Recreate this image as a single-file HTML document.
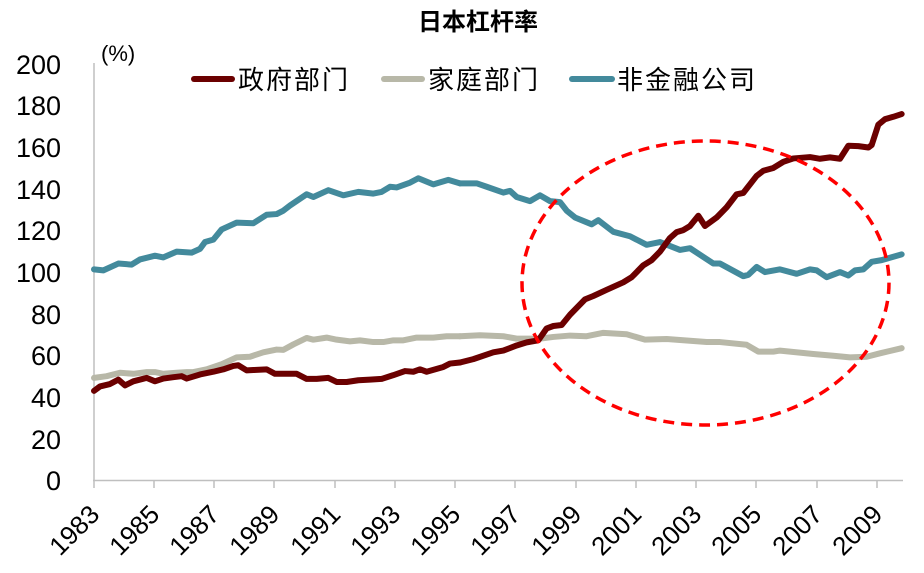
<!DOCTYPE html>
<html><head><meta charset="utf-8"><style>
body{margin:0;background:#fff;}
svg{display:block;font-family:"Liberation Sans","Noto Sans CJK SC",sans-serif;}
</style></head><body>
<svg width="924" height="573" viewBox="0 0 924 573" xmlns="http://www.w3.org/2000/svg">
<text x="478" y="30" text-anchor="middle" font-size="24" font-weight="bold" fill="#000">日本杠杆率</text>
<text x="101" y="61" font-size="22" fill="#000">(%)</text>
<g font-size="27" fill="#000" text-anchor="end">
<text x="61" y="74">200</text><text x="61" y="115">180</text><text x="61" y="157">160</text>
<text x="61" y="199">140</text><text x="61" y="240">120</text><text x="61" y="282">100</text>
<text x="61" y="324">80</text><text x="61" y="365">60</text><text x="61" y="407">40</text>
<text x="61" y="449">20</text><text x="61" y="490">0</text>
</g>
<line x1="94" y1="63" x2="94" y2="481" stroke="#bfbfbf" stroke-width="1.5"/>
<line x1="93" y1="480.5" x2="903" y2="480.5" stroke="#bfbfbf" stroke-width="1.5"/>
<g stroke="#bfbfbf" stroke-width="1.5">
<line x1="94" y1="480" x2="94" y2="488"/><line x1="154" y1="480" x2="154" y2="488"/><line x1="214" y1="480" x2="214" y2="488"/><line x1="274" y1="480" x2="274" y2="488"/><line x1="335" y1="480" x2="335" y2="488"/><line x1="395" y1="480" x2="395" y2="488"/><line x1="455" y1="480" x2="455" y2="488"/><line x1="515" y1="480" x2="515" y2="488"/><line x1="576" y1="480" x2="576" y2="488"/><line x1="636" y1="480" x2="636" y2="488"/><line x1="696" y1="480" x2="696" y2="488"/><line x1="756" y1="480" x2="756" y2="488"/><line x1="817" y1="480" x2="817" y2="488"/><line x1="877" y1="480" x2="877" y2="488"/>
</g>
<g font-size="26" fill="#000" text-anchor="end">
<text transform="translate(101,516) rotate(-45)">1983</text>
<text transform="translate(161,516) rotate(-45)">1985</text>
<text transform="translate(221,516) rotate(-45)">1987</text>
<text transform="translate(281,516) rotate(-45)">1989</text>
<text transform="translate(342,516) rotate(-45)">1991</text>
<text transform="translate(402,516) rotate(-45)">1993</text>
<text transform="translate(462,516) rotate(-45)">1995</text>
<text transform="translate(522,516) rotate(-45)">1997</text>
<text transform="translate(583,516) rotate(-45)">1999</text>
<text transform="translate(643,516) rotate(-45)">2001</text>
<text transform="translate(703,516) rotate(-45)">2003</text>
<text transform="translate(763,516) rotate(-45)">2005</text>
<text transform="translate(824,516) rotate(-45)">2007</text>
<text transform="translate(884,516) rotate(-45)">2009</text>
</g>
<!-- legend -->
<line x1="194" y1="79" x2="232" y2="79" stroke="#6b0000" stroke-width="6" stroke-linecap="round"/>
<text x="238" y="89" font-size="26" letter-spacing="2">政府部门</text>
<line x1="384" y1="79" x2="422" y2="79" stroke="#b8b8a8" stroke-width="6" stroke-linecap="round"/>
<text x="428" y="89" font-size="26" letter-spacing="2">家庭部门</text>
<line x1="572" y1="79" x2="612" y2="79" stroke="#438a9c" stroke-width="6" stroke-linecap="round"/>
<text x="617" y="89" font-size="26" letter-spacing="2">非金融公司</text>

<g fill="none" stroke-width="6" stroke-linejoin="round" stroke-linecap="round">
<g transform="translate(0,40) scale(0.33333,0.3413)">
<polyline vector-effect="non-scaling-stroke" stroke="#438a9c" points="282,672 310,675 355,655 395,658 420,643 465,632 490,637 530,620 575,623 600,612 615,592 640,585 665,555 710,535 760,537 800,512 830,510 850,500 870,485 920,452 940,460 985,440 1030,455 1075,445 1120,450 1145,445 1170,430 1190,432 1230,418 1255,405 1300,423 1345,410 1380,420"/>
<polyline vector-effect="non-scaling-stroke" stroke="#b8b8a8" points="282,990 320,985 360,975 400,978 440,973 465,973 490,978 530,975 560,973 580,973 620,965 665,950 710,930 750,928 790,915 830,907 850,908 880,892 920,873 940,878 980,872 1010,878 1050,883 1080,880 1120,885 1150,885 1180,880 1210,880 1250,872 1300,872 1340,868 1380,868"/>
<polyline vector-effect="non-scaling-stroke" stroke="#6b0000" points="282,1028 300,1015 330,1008 355,995 375,1012 400,1000 440,990 465,1000 490,992 520,988 545,985 560,992 600,980 640,972 670,965 700,955 715,953 740,968 760,967 800,965 825,978 890,978 920,993 950,993 985,990 1010,1002 1040,1002 1075,997 1110,995 1145,993 1180,982 1215,970 1240,972 1260,965 1280,972 1330,958 1350,948 1380,945"/>
</g>
<g transform="translate(460,40) scale(0.33333,0.3413)">
<polyline vector-effect="non-scaling-stroke" stroke="#438a9c" points="0,420 50,420 80,430 130,447 150,442 170,460 210,472 240,455 270,472 300,475 320,500 345,520 395,540 415,528 460,562 510,575 560,600 600,592 660,615 690,610 760,655 780,655 850,692 865,688 890,665 915,680 960,672 1010,685 1050,672 1070,675 1100,695 1140,680 1165,690 1185,675 1210,672 1235,650 1265,645 1325,628"/>
<polyline vector-effect="non-scaling-stroke" stroke="#b8b8a8" points="0,868 60,865 130,868 170,875 240,875 280,870 330,866 380,868 430,858 500,862 555,878 620,876 700,882 740,885 780,885 860,893 895,913 940,913 960,910 1060,920 1120,925 1170,930 1220,928 1260,918 1325,903"/>
<polyline vector-effect="non-scaling-stroke" stroke="#6b0000" points="0,945 40,935 100,915 130,910 170,895 200,886 235,880 260,845 280,838 305,835 330,805 375,760 400,750 440,732 490,710 515,695 550,660 575,645 600,620 630,580 650,563 670,557 690,545 715,515 735,545 770,520 800,490 830,452 850,448 890,398 910,383 940,375 970,357 1000,347 1050,343 1080,348 1110,344 1140,348 1165,310 1195,311 1225,315 1235,308 1255,248 1275,232 1300,225 1325,217"/>
</g>
</g>
<ellipse cx="705.5" cy="283" rx="183.5" ry="142" fill="none" stroke="#ff0000" stroke-width="3.5" stroke-dasharray="11,7"/>
</svg>
</body></html>
